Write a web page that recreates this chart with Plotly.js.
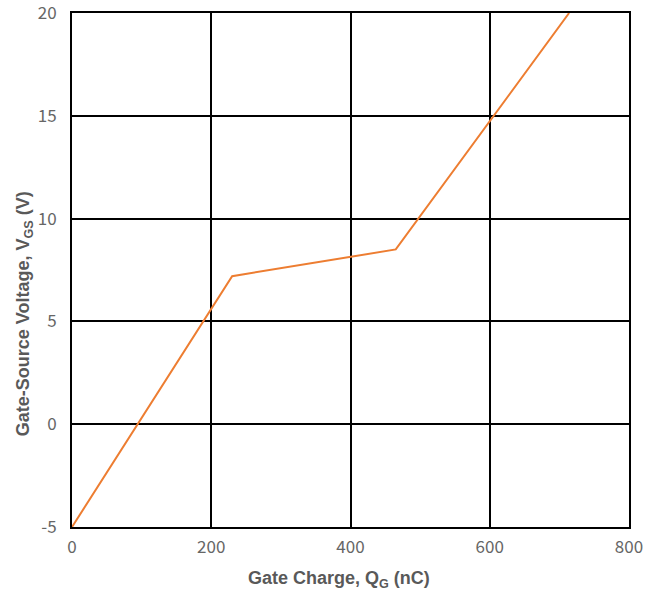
<!DOCTYPE html>
<html><head><meta charset="utf-8">
<script src="https://cdn.plot.ly/plotly-3.0.1.min.js"></script>
<style>body{margin:0}#c{width:660px;height:596px}</style>
</head><body><div id="c"></div>
<script>
const gateCharge = [0, 230, 465, 714];
const vgs = [-5, 7.2, 8.5, 20];
const xTicks = [0, 200, 400, 600, 800];
const yTicks = [-5, 0, 5, 10, 15, 20];
const xTitle = '<b>Gate Charge, Q<sub>G</sub> (nC)</b>';
const yTitle = '<b>Gate-Source Voltage, V<sub>GS</sub> (V)</b>';

const tickFam = '"Noto Sans CJK SC", "Noto Sans", sans-serif';
const titleFam = '"Liberation Sans", Arial, sans-serif';
const titleFont = {family: titleFam, size: 18, color: '#595959'};
Plotly.newPlot('c', [{
  x: gateCharge, y: vgs, mode: 'lines', type: 'scatter',
  line: {color: '#ED7D31', width: 2}, hoverinfo: 'skip', cliponaxis: false
}], {
  width: 660, height: 596,
  margin: {l: 72, r: 31, t: 13, b: 69},
  paper_bgcolor: '#fff', plot_bgcolor: '#fff',
  showlegend: false,
  xaxis: {
    range: [0, 800], tickvals: xTicks, ticktext: xTicks.map(String),
    showgrid: true, gridcolor: '#000', gridwidth: 2,
    showline: true, linecolor: '#000', linewidth: 2, mirror: true,
    zeroline: false, ticks: '', automargin: false, ticklabeloverflow: 'allow',
    ticklabelstandoff: 4,
    tickfont: {family: tickFam, size: 17, color: '#666666'}
  },
  yaxis: {
    range: [-5, 20], tickvals: yTicks, ticktext: yTicks.map(String),
    showgrid: true, gridcolor: '#000', gridwidth: 2,
    showline: true, linecolor: '#000', linewidth: 2, mirror: true,
    zeroline: false, ticks: '', automargin: false, ticklabeloverflow: 'allow',
    ticklabelstandoff: 10,
    tickfont: {family: tickFam, size: 17, color: '#666666'}
  },
  annotations: [
    {text: xTitle, xref: 'paper', yref: 'paper', x: 0.479, y: -0.103,
     xanchor: 'center', yanchor: 'middle', showarrow: false, font: titleFont},
    {text: yTitle, xref: 'paper', yref: 'paper', x: -0.0862, y: 0.416,
     xanchor: 'center', yanchor: 'middle', showarrow: false, textangle: -90, font: titleFont}
  ]
}, {displayModeBar: false, staticPlot: true});
</script></body></html>
